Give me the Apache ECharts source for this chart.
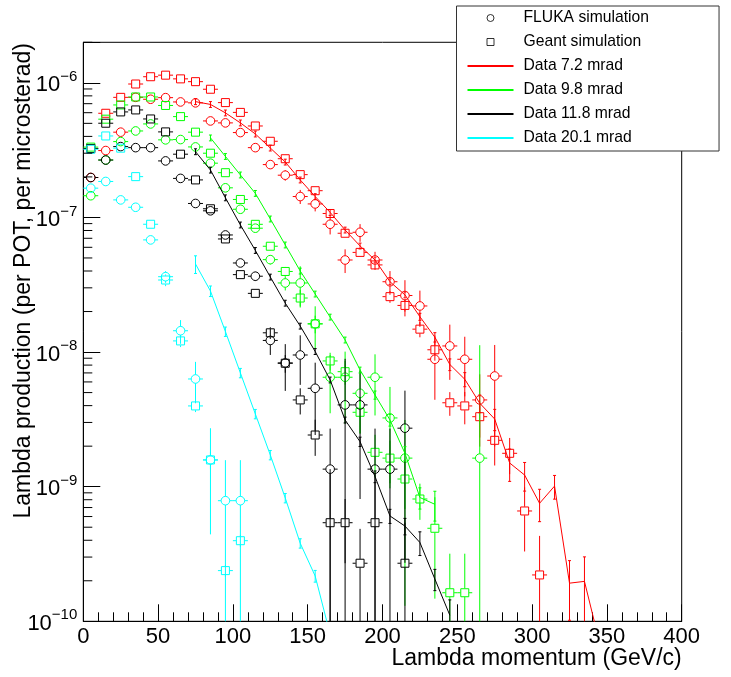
<!DOCTYPE html>
<html><head><meta charset="utf-8">
<script src="https://cdn.jsdelivr.net/npm/echarts@6/dist/echarts.min.js"></script>
<style>html,body{margin:0;padding:0;background:#fff}#c{width:731px;height:677px}</style>
</head><body><div id="c"></div>
<script>
// ---- data (bin centres in GeV/c) ----
const bins = [5,15,25,35,45,55,65,75,85,95,105,115,125,135,145,155,165,175,185,195,205,215,225,235,245,255,265,275,285,295,305,315,325,335,345];
const xTickLabels = [0,50,100,150,200,250,300,350,400];
const yTickLabels = [1e-10,1e-9,1e-8,1e-7,1e-6];
const yMinorTickValues = [2e-10,3e-10,4e-10,5e-10,6e-10,7e-10,8e-10,9e-10,2e-9,3e-9,4e-9,5e-9,6e-9,7e-9,8e-9,9e-9,2e-8,3e-8,4e-8,5e-8,6e-8,7e-8,8e-8,9e-8,2e-7,3e-7,4e-7,5e-7,6e-7,7e-7,8e-7,9e-7,2e-6];

// 7.2 mrad (red)
const fluka72 = [1.98e-7,3.14e-7,4.3e-7,7.8e-7,7.55e-7,7.76e-7,7.21e-7,7.1e-7,5.21e-7,5.04e-7,4.27e-7,3.3e-7,2.47e-7,2.06e-7,1.43e-7,1.26e-7,8.9e-8,4.83e-8,7.76e-8,4.83e-8,3.33e-8,2.63e-8,2.2e-8,8.84e-9,1.11e-8,8.84e-9,4.41e-9,6.64e-9];
const fluka72Err = [0.03,0.03,0.03,0.03,0.03,0.03,0.03,0.03,0.03,0.03,0.03,0.04,0.06,0.09,0.12,0.12,0.16,0.2,0.15,0.15,0.2,0.3,0.3,0.5,0.44,0.47,0.55,0.7];
const geant72 = [3.25e-7,5.94e-7,7.8e-7,9.8e-7,1.11e-6,1.14e-6,1.07e-6,1.02e-6,8.96e-7,7.13e-7,6.03e-7,4.78e-7,3.68e-7,2.73e-7,2.08e-7,1.58e-7,1.07e-7,7.63e-8,5.5e-8,4.44e-8,2.58e-8,2.22e-8,1.48e-8,1.04e-8,4.2e-9,3.98e-9,3.31e-9,2.21e-9,1.77e-9,6.6e-10,2.21e-10];
const geant72Err = [0.03,0.03,0.03,0.03,0.03,0.03,0.03,0.03,0.03,0.03,0.03,0.03,0.03,0.03,0.03,0.03,0.05,0.06,0.07,0.08,0.1,0.1,0.13,0.17,0.2,0.27,0.3,0.35,0.3,0.5,0.95];
const data72 = [null,null,null,null,null,null,null,7.25e-7,6.91e-7,5.98e-7,5.04e-7,4.17e-7,3.28e-7,2.58e-7,1.9e-7,1.43e-7,1.09e-7,8.07e-8,6.14e-8,4.83e-8,3.33e-8,2.66e-8,1.83e-8,1.29e-8,8.09e-9,6.28e-9,4.17e-9,3.18e-9,1.5e-9,1.22e-9,7.53e-10,1.01e-9,1.92e-10,1.98e-10,7e-11];
const data72Err = [null,null,null,null,null,null,null,0.05,0.05,0.05,0.05,0.05,0.05,0.05,0.05,0.05,0.05,0.05,0.05,0.05,0.05,0.05,0.06,0.08,0.1,0.12,0.15,0.18,0.27,0.24,0.27,0.2,0.47,0.52,0];

// 9.8 mrad (green)
const fluka98 = [1.45e-7,2.67e-7,3.66e-7,4.39e-7,4.95e-7,3.77e-7,3.79e-7,3.34e-7,2.53e-7,1.66e-7,1.15e-7,8.32e-8,4.86e-8,3.26e-8,3.26e-8,1.62e-8,6.5e-9,6.5e-9,4.94e-9,6.5e-9,3.24e-9,1.63e-9,null,null,null,null,1.63e-9];
const fluka98Err = [0.03,0.03,0.03,0.03,0.03,0.03,0.03,0.03,0.03,0.03,0.03,0.05,0.08,0.12,0.33,0.35,0.46,0.55,0.5,0.48,0.7,0.92,null,null,null,null,5.9];
const geant98 = [3.33e-7,5.37e-7,6.85e-7,7.85e-7,7.85e-7,6.79e-7,5.61e-7,4.3e-7,3.0e-7,2.15e-7,1.36e-7,8.89e-8,6.11e-8,3.97e-8,2.52e-8,1.62e-8,8.59e-9,7.15e-9,3.57e-9,1.8e-9,1.63e-9,1.14e-9,8.1e-10,4.91e-10,1.63e-10,1.63e-10];
const geant98Err = [0.03,0.03,0.03,0.03,0.03,0.03,0.03,0.03,0.03,0.03,0.03,0.03,0.03,0.08,0.15,0.15,0.15,0.2,0.3,0.35,0.35,0.4,0.3,0.7,0.95,0.95];
const data98 = [null,null,null,null,null,null,null,null,3.9e-7,2.84e-7,2.07e-7,1.51e-7,9.75e-8,6.25e-8,4.0e-8,2.7e-8,1.82e-8,1.23e-8,7.36e-9,4.8e-9,3.13e-9,1.77e-9,8.31e-10,7.4e-10];
const data98Err = [null,null,null,null,null,null,null,null,0.05,0.05,0.05,0.05,0.05,0.05,0.05,0.05,0.05,0.05,0.05,0.07,0.1,0.12,0.18,0.25];

// 11.8 mrad (black)
const fluka118 = [1.98e-7,2.67e-7,3.36e-7,3.3e-7,3.3e-7,2.63e-7,1.95e-7,1.27e-7,1.12e-7,7.41e-8,4.59e-8,3.66e-8,1.22e-8,8.3e-9,9.51e-9,5.38e-9,1.35e-9,4.05e-9,4.05e-9,1.35e-9,1.35e-9,2.72e-9];
const fluka118Err = [0.03,0.03,0.03,0.03,0.03,0.03,0.03,0.03,0.03,0.03,0.03,0.08,0.22,0.38,0.4,0.55,1.0,1.2,0.8,1.0,1.0,0.9];
const geant118 = [3.25e-7,5.01e-7,6.08e-7,6.29e-7,5.39e-7,4.32e-7,2.95e-7,1.9e-7,1.16e-7,6.92e-8,3.76e-8,2.73e-8,1.39e-8,8.26e-9,4.41e-9,2.42e-9,5.4e-10,5.4e-10,2.7e-10,5.4e-10,null,2.7e-10];
const geant118Err = [0.03,0.03,0.03,0.03,0.03,0.03,0.03,0.03,0.03,0.03,0.03,0.03,0.1,0.15,0.22,0.3,1.5,0.5,0.8,1.0,null,1.0];
const data118 = [null,null,null,null,null,null,null,3.08e-7,2.25e-7,1.4e-7,8.8e-8,5.69e-8,3.61e-8,2.31e-8,1.56e-8,1.01e-8,6.21e-9,3.13e-9,2.16e-9,1.19e-9,6.06e-10,5.1e-10,3.85e-10,2.06e-10,1.11e-10];
const data118Err = [null,null,null,null,null,null,null,0.05,0.05,0.05,0.05,0.05,0.05,0.05,0.05,0.05,0.05,0.05,0.08,0.1,0.12,0.14,0.2,0.18,0.3];

// 20.1 mrad (cyan)
const fluka201 = [1.65e-7,1.85e-7,1.35e-7,1.19e-7,6.81e-8,3.63e-8,1.44e-8,6.31e-9,1.58e-9,7.87e-10,7.87e-10];
const fluka201Err = [0.03,0.03,0.03,0.03,0.03,0.1,0.2,0.34,0.72,1.0,1.0];
const geant201 = [3.21e-7,4.03e-7,3.27e-7,2.01e-7,8.9e-8,3.43e-8,1.21e-8,3.98e-9,1.58e-9,2.38e-10,3.97e-10];
const geant201Err = [0.03,0.03,0.03,0.03,0.03,0.1,0.1,0.1,0.15,0.1,0.1];
const data201 = [null,null,null,null,null,null,null,4.51e-8,2.84e-8,1.42e-8,7.0e-9,3.47e-9,1.72e-9,8.24e-10,3.8e-10,2.17e-10,8e-11];
const data201Err = [null,null,null,null,null,null,null,0.15,0.09,0.08,0.08,0.08,0.08,0.08,0.08,0.1,0];

const legendNames = ['FLUKA simulation','Geant simulation','Data 7.2 mrad','Data 9.8 mrad','Data 11.8 mrad','Data 20.1 mrad'];
const colors = {r:'#ff0000', g:'#00ff00', k:'#000000', c:'#00ffff'};

// ---- chart ----
const F = '"Liberation Sans", Arial, Helvetica, sans-serif';
const chart = echarts.init(document.getElementById('c'), null, {renderer:'canvas'});

function pts(vals, errs) {
  const out = [];
  bins.forEach((b,i) => { if (vals[i] != null) out.push([b, vals[i], (errs && errs[i]) || 0]); });
  return out;
}

function markerSeries(id, vals, errs, color, shape, z) {
  return {
    type:'custom', id, name:id, silent:true, z, data:pts(vals, errs), encode:{x:0,y:1},
    renderItem(params, api) {
      const x = api.value(0), v = api.value(1), e = api.value(2);
      const cs = params.coordSys, top = cs.y, bot = cs.y + cs.height;
      const p = api.coord([x, v]);
      if (p[1] > bot + 0.5 || p[1] < top) return null;
      const hi = Math.max(top, api.coord([x, v*(1+e)])[1]);
      const lo = v*(1-e) > 0 ? Math.min(bot, api.coord([x, v*(1-e)])[1]) : bot;
      const xl = api.coord([x-5, v])[0], xr = api.coord([x+5, v])[0];
      const r = 4.3;
      const st = {stroke:color, lineWidth:1, fill:'none'};
      const ch = [];
      if (hi < p[1]-r) ch.push({type:'line', shape:{x1:p[0],y1:p[1]-r,x2:p[0],y2:hi}, style:st});
      if (lo > p[1]+r) ch.push({type:'line', shape:{x1:p[0],y1:p[1]+r,x2:p[0],y2:lo}, style:st});
      ch.push({type:'line', shape:{x1:xl,y1:p[1],x2:p[0]-r,y2:p[1]}, style:st});
      ch.push({type:'line', shape:{x1:p[0]+r,y1:p[1],x2:xr,y2:p[1]}, style:st});
      if (shape === 'circle') ch.push({type:'circle', shape:{cx:p[0],cy:p[1],r:r}, style:st});
      else ch.push({type:'rect', shape:{x:p[0]-r+0.3,y:p[1]-r+0.3,width:2*r-0.6,height:2*r-0.6}, style:st});
      return {type:'group', children:ch};
    }
  };
}

function lineErrSeries(id, vals, errs, color, z) {
  return {
    type:'custom', id, name:id, silent:true, z, data:pts(vals, errs), encode:{x:0,y:1},
    renderItem(params, api) {
      const x = api.value(0), v = api.value(1), e = api.value(2);
      const cs = params.coordSys, top = cs.y, bot = cs.y + cs.height;
      const p = api.coord([x, v]);
      if (p[1] > bot || e <= 0) return null;
      const hi = Math.max(top, api.coord([x, v*(1+e)])[1]);
      const lo = v*(1-e) > 0 ? Math.min(bot, api.coord([x, v*(1-e)])[1]) : bot;
      const st = {stroke:color, lineWidth:1};
      const ch = [
        {type:'line', shape:{x1:p[0],y1:hi,x2:p[0],y2:lo}, style:st},
        {type:'line', shape:{x1:p[0]-1.5,y1:hi,x2:p[0]+1.5,y2:hi}, style:st}
      ];
      if (lo < bot) ch.push({type:'line', shape:{x1:p[0]-1.5,y1:lo,x2:p[0]+1.5,y2:lo}, style:st});
      return {type:'group', children:ch};
    }
  };
}

function dataLine(name, vals, color) {
  return {
    type:'line', name, data:pts(vals).map(d => [d[0], d[1]]), symbol:'none', showSymbol:false,
    lineStyle:{color, width:1}, itemStyle:{color}, z:6, silent:true, clip:true
  };
}

const series = [
  {type:'scatter', name:'FLUKA simulation', data:[], symbol:'emptyCircle', itemStyle:{color:'#000'}},
  {type:'scatter', name:'Geant simulation', data:[], symbol:'emptyRect', itemStyle:{color:'#000'}},
  markerSeries('g72', geant72, geant72Err, colors.r, 'rect', 3),
  markerSeries('f72', fluka72, fluka72Err, colors.r, 'circle', 3),
  markerSeries('g98', geant98, geant98Err, colors.g, 'rect', 3),
  markerSeries('f98', fluka98, fluka98Err, colors.g, 'circle', 3),
  markerSeries('g118', geant118, geant118Err, colors.k, 'rect', 3),
  markerSeries('f118', fluka118, fluka118Err, colors.k, 'circle', 3),
  markerSeries('g201', geant201, geant201Err, colors.c, 'rect', 3),
  markerSeries('f201', fluka201, fluka201Err, colors.c, 'circle', 3),
  dataLine('Data 7.2 mrad', data72, colors.r),
  dataLine('Data 9.8 mrad', data98, colors.g),
  dataLine('Data 11.8 mrad', data118, colors.k),
  dataLine('Data 20.1 mrad', data201, colors.c),
  lineErrSeries('e72', data72, data72Err, colors.r, 6),
  lineErrSeries('e98', data98, data98Err, colors.g, 6),
  lineErrSeries('e118', data118, data118Err, colors.k, 6),
  lineErrSeries('e201', data201, data201Err, colors.c, 6),
  {
    type:'custom', id:'yMinorTicks', silent:true, z:7,
    data: yMinorTickValues.map(v => [0, v]), encode:{x:0,y:1},
    renderItem(params, api) {
      const p = api.coord([api.value(0), api.value(1)]);
      return {type:'line', shape:{x1:p[0], y1:p[1], x2:p[0]+9, y2:p[1]}, style:{stroke:'#000', lineWidth:1}};
    }
  }
];

const hideDot = {opacity:0};
chart.setOption({
  animation:false,
  backgroundColor:'#fff',
  grid:{left:83.3, right:49.3, top:42.3, bottom:55.7, containLabel:false, outerBoundsMode:'none',
        show:true, borderColor:'#000', borderWidth:1, backgroundColor:'transparent'},
  xAxis:{
    type:'value', min:0, max:400, interval:50,
    axisLine:{show:true, onZero:false, lineStyle:{color:'#000', width:1}},
    axisTick:{show:true, inside:true, length:17, lineStyle:{color:'#000'}},
    minorTick:{show:true, splitNumber:5, length:9, lineStyle:{color:'#000'}},
    splitLine:{show:false},
    axisLabel:{margin:5, fontSize:22, fontFamily:F, color:'#000',
      formatter: v => xTickLabels.indexOf(v) >= 0 ? String(v) : ''}
  },
  yAxis:{
    type:'log', logBase:10, min:1e-10, max:2e-6,
    axisLine:{show:true, lineStyle:{color:'#000', width:1}},
    axisTick:{show:true, inside:true, length:17, lineStyle:{color:'#000'}},
    splitLine:{show:false},
    axisLabel:{
      margin:6,
      formatter: v => {
        const hit = yTickLabels.find(t => Math.abs(Math.log10(t) - Math.log10(v)) < 1e-6);
        if (hit === undefined) return '';
        return '{m|10}{e|\u2212' + (-Math.round(Math.log10(hit))) + '}';
      },
      rich:{
        m:{fontSize:22, fontFamily:F, color:'#000', padding:[5,0,0,0], verticalAlign:'bottom'},
        e:{fontSize:15, fontFamily:F, color:'#000', verticalAlign:'top'}
      }
    }
  },
  legend:{
    orient:'vertical', left:456.5, top:6,
    itemWidth:46, itemHeight:7, itemGap:8,
    padding:[4,70,5,10],
    backgroundColor:'#fff', borderColor:'#333', borderWidth:1,
    selectedMode:false,
    textStyle:{fontFamily:F, fontSize:15.7, color:'#000', padding:[0,0,0,5]},
    data:[
      {name:legendNames[0], icon:'circle', itemStyle:{color:'#fff', borderColor:'#000', borderWidth:1}},
      {name:legendNames[1], icon:'path://M0,0L10,0L10,10L0,10Z', itemStyle:{color:'#fff', borderColor:'#000', borderWidth:1}},
      {name:legendNames[2], itemStyle:hideDot},
      {name:legendNames[3], itemStyle:hideDot},
      {name:legendNames[4], itemStyle:hideDot},
      {name:legendNames[5], itemStyle:hideDot}
    ]
  },
  graphic:[
    {type:'text', x:681.7, y:659, z:10, style:{text:'Lambda momentum (GeV/c)', fontSize:23, fontFamily:F, fill:'#000', align:'right', verticalAlign:'middle'}},
    {type:'text', x:24, y:43, rotation:Math.PI/2, z:10, style:{text:'Lambda production (per POT, per microsterad)', fontSize:23, fontFamily:F, fill:'#000', align:'right', verticalAlign:'middle'}}
  ],
  series
});
</script>
</body></html>
